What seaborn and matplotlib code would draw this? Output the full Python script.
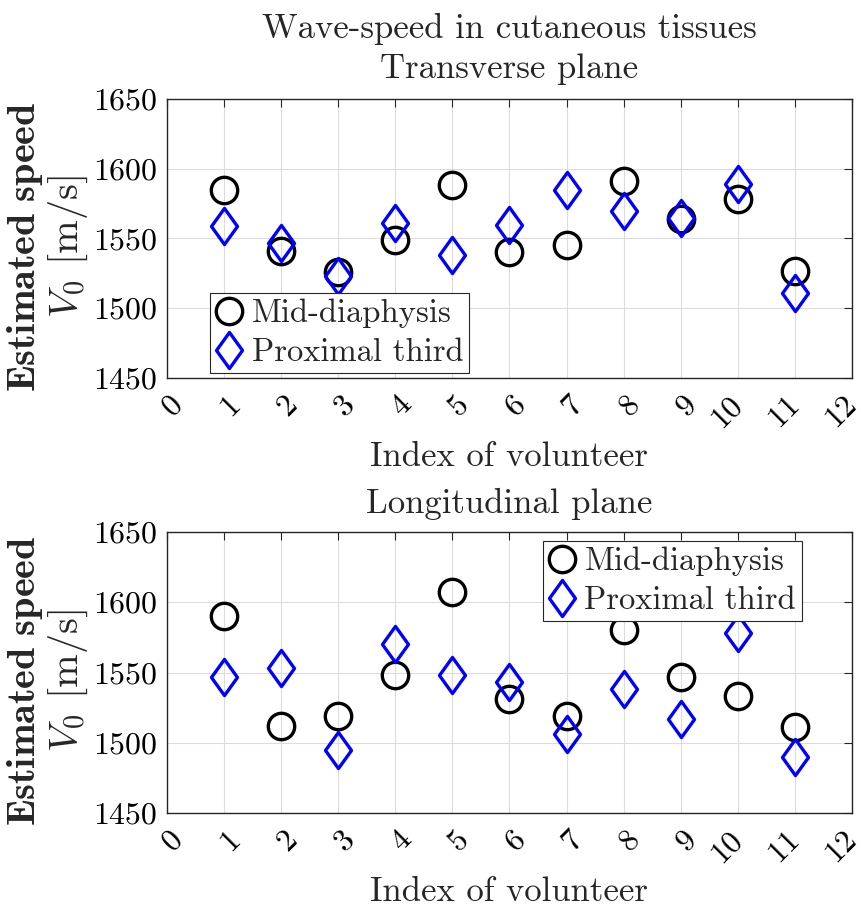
import numpy as np
import pandas as pd
import seaborn as sns
import matplotlib.pyplot as plt
from matplotlib.path import Path
from matplotlib.transforms import ScaledTranslation

# =========================
# Data
# =========================
volunteers = list(range(1, 12))

transverse_mid = [1585, 1541, 1526, 1549, 1588, 1540, 1545, 1591, 1564, 1578, 1527]
transverse_prox = [1559, 1547, 1523, 1561, 1538, 1560, 1585, 1570, 1565, 1589, 1511]

longitudinal_mid = [1590, 1512, 1519, 1548, 1607, 1531, 1519, 1580, 1547, 1533, 1511]
longitudinal_prox = [1547, 1553, 1495, 1570, 1548, 1543, 1506, 1538, 1517, 1578, 1490]

xticks = list(range(0, 13))
yticks = [1450, 1500, 1550, 1600, 1650]

# =========================
# Style
# =========================
sns.set_theme(style="white")
plt.rcParams["font.family"] = "serif"
plt.rcParams["font.serif"] = ["cmr10"]
plt.rcParams["mathtext.fontset"] = "cm"
plt.rcParams["axes.formatter.use_mathtext"] = True
plt.rcParams["axes.unicode_minus"] = False

TICK_FS = 23
TITLE_FS = 25
LEG_FS = 23.5
YLAB_FS = 29

# MATLAB-like diamond (narrower than a square)
diamond = Path([(0, 1), (0.72, 0), (0, -1), (-0.72, 0), (0, 1)],
               [Path.MOVETO, Path.LINETO, Path.LINETO, Path.LINETO, Path.CLOSEPOLY])

fig = plt.figure(figsize=(8.62, 9.08), dpi=100)
ax1 = fig.add_axes([0.1937, 0.5837, 0.7947, 0.3073])
ax2 = fig.add_axes([0.1937, 0.1046, 0.7947, 0.3095])


def draw(ax, mid, prox, title, title_pad, leg_loc, leg_anchor):
    df = pd.DataFrame({"idx": volunteers, "mid": mid, "prox": prox})
    sns.lineplot(data=df, x="idx", y="mid", ax=ax, estimator=None, sort=False,
                 linestyle="none", marker="o", color="black", mfc="none",
                 mec="black", ms=19, mew=2.4, label="Mid-diaphysis")
    sns.lineplot(data=df, x="idx", y="prox", ax=ax, estimator=None, sort=False,
                 linestyle="none", marker=diamond, color="blue", mfc="none",
                 mec="blue", ms=26, mew=2.4, label="Proximal third")

    ax.set_xlim(0, 12)
    ax.set_ylim(1450, 1650)
    ax.set_xticks(xticks)
    ax.set_yticks(yticks)
    ax.tick_params(direction="in", length=6, width=0.8, top=True, right=True,
                   colors="#262626", labelcolor="black")
    ax.tick_params(axis="x", pad=9)
    ax.tick_params(axis="y", pad=7)
    ax.set_xticklabels([str(t) for t in xticks], rotation=45, ha="center", va="top",
                       fontsize=TICK_FS)
    ax.set_yticklabels([str(t) for t in yticks], fontsize=TICK_FS)
    # rotated labels sit like MATLAB's: short ones a bit right, long ones a bit left
    for lab in ax.get_xticklabels():
        dx = 0.06 if len(lab.get_text()) == 1 else -0.11
        lab.set_transform(lab.get_transform() + ScaledTranslation(dx, 0, fig.dpi_scale_trans))
    ax.grid(True, color="#dcdcdc", linewidth=0.8)
    for s in ax.spines.values():
        s.set_color("#262626")
        s.set_linewidth(1.0)

    ax.set_title(title, fontsize=TITLE_FS, pad=title_pad, linespacing=1.35)
    ax.set_xlabel("Index of volunteer", fontsize=TITLE_FS, labelpad=6)
    ax.set_ylabel(r"$\mathbf{Estimated\ speed}$" + "\n" + r"$V_0$ [m/s]",
                  fontsize=YLAB_FS, linespacing=1.05)
    ax.yaxis.set_label_coords(-0.113, 0.47)

    leg = ax.legend(loc=leg_loc, bbox_to_anchor=leg_anchor, fontsize=LEG_FS,
                    frameon=True, fancybox=False, framealpha=1, edgecolor="#262626",
                    handlelength=0.8, handletextpad=0.3, borderpad=0.18,
                    labelspacing=0.3, borderaxespad=0)
    leg.get_frame().set_linewidth(0.8)


draw(ax1, transverse_mid, transverse_prox,
     "Wave-speed in cutaneous tissues\nTransverse plane", 15,
     "lower left", (0.063, 0.018))
draw(ax2, longitudinal_mid, longitudinal_prox, "Longitudinal plane", 14,
     "upper right", (0.927, 0.968))

fig.savefig("out.png", dpi=100)
